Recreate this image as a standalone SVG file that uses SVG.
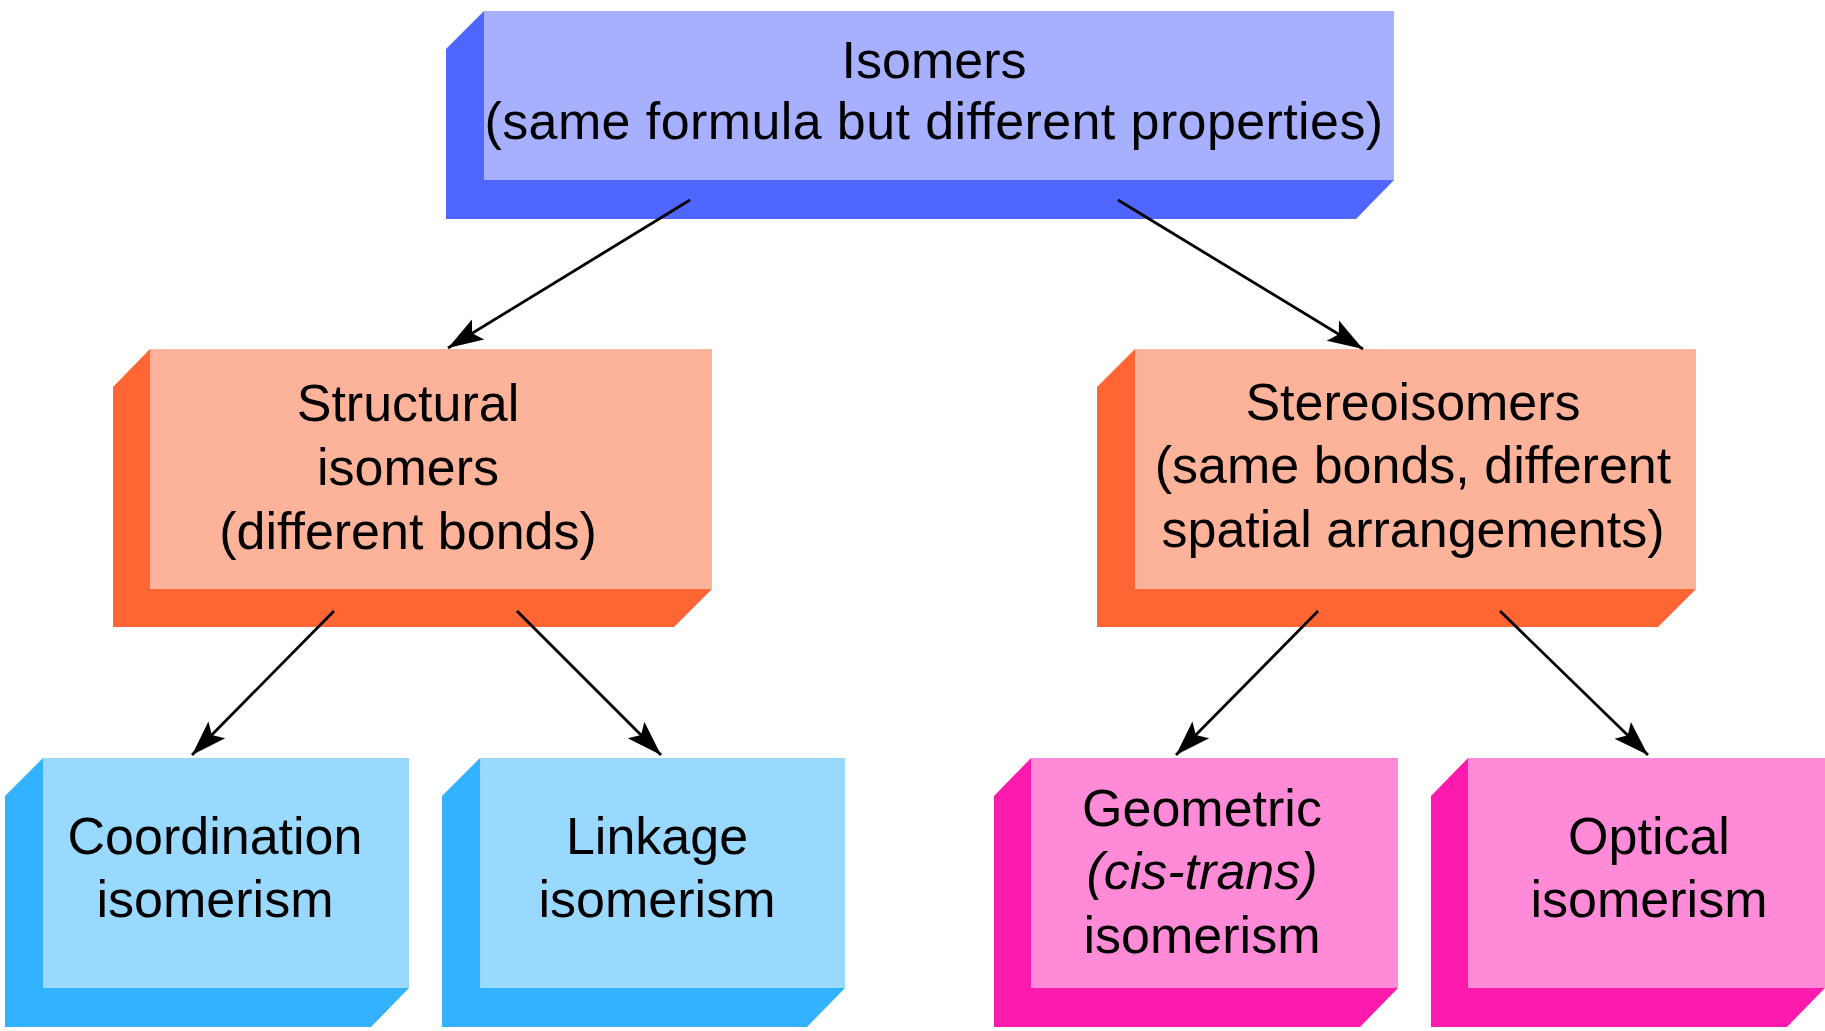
<svg xmlns="http://www.w3.org/2000/svg" width="1825" height="1031" viewBox="0 0 1825 1031">
<style>
  text { font-family: "Liberation Sans", Arial, Helvetica, sans-serif; font-size: 52px; fill: #000; text-anchor: middle; }
  .it { font-style: italic; }
  .wide { letter-spacing: 0.4px; }
  .conn line { stroke: #000; stroke-width: 2.8; fill: none; }
  .violetD { fill: #4f66ff; } .violetF { fill: #a6b0ff; }
  .orangeD { fill: #ff6633; } .orangeF { fill: #fdb399; }
  .blueD { fill: #33b2ff; } .blueF { fill: #99d9ff; }
  .pinkD { fill: #ff1aae; } .pinkF { fill: #ff8ad8; }
</style>
<defs>
  <marker id="arrow" markerUnits="userSpaceOnUse" markerWidth="40" markerHeight="30" viewBox="-32 -12 34 24" refX="0" refY="0" orient="auto">
    <path d="M0,0 L-30,-10 L-24,0 L-30,10 Z" fill="#000"/>
  </marker>
</defs>
<rect width="1825" height="1031" fill="#fff"/>

<g id="isomers">
  <polygon class="violetD" points="446,49 484,11 1394,11 1394,180 1356,219 446,219"/>
  <rect class="violetF" x="484" y="11" width="910" height="169"/>
  <text x="934" y="78">Isomers</text>
  <text x="934" y="139" class="wide">(same formula but different properties)</text>
</g>

<g id="structural">
  <polygon class="orangeD" points="113,387 150,349 712,349 712,589 674,627 113,627"/>
  <rect class="orangeF" x="150" y="349" width="562" height="240"/>
  <text x="408" y="421">Structural</text>
  <text x="408" y="485">isomers</text>
  <text x="408" y="549">(different bonds)</text>
</g>

<g id="stereoisomers">
  <polygon class="orangeD" points="1097,387 1135,349 1696,349 1696,589 1658,627 1097,627"/>
  <rect class="orangeF" x="1135" y="349" width="561" height="240"/>
  <text x="1413" y="420">Stereoisomers</text>
  <text x="1413" y="483">(same bonds, different</text>
  <text x="1413" y="547">spatial arrangements)</text>
</g>

<g id="coordination">
  <polygon class="blueD" points="5,796 43,758 409,758 409,988 371,1027 5,1027"/>
  <rect class="blueF" x="43" y="758" width="366" height="230"/>
  <text x="215" y="854">Coordination</text>
  <text x="215" y="917">isomerism</text>
</g>

<g id="linkage">
  <polygon class="blueD" points="442,796 480,758 845,758 845,988 807,1027 442,1027"/>
  <rect class="blueF" x="480" y="758" width="365" height="230"/>
  <text x="657" y="854">Linkage</text>
  <text x="657" y="917">isomerism</text>
</g>

<g id="geometric">
  <polygon class="pinkD" points="994,796 1031,758 1398,758 1398,988 1360,1027 994,1027"/>
  <rect class="pinkF" x="1031" y="758" width="367" height="230"/>
  <text x="1202" y="826">Geometric</text>
  <text x="1202" y="889" class="it">(cis-trans)</text>
  <text x="1202" y="953">isomerism</text>
</g>

<g id="optical">
  <polygon class="pinkD" points="1431,796 1468,758 1825,758 1825,988 1787,1027 1431,1027"/>
  <rect class="pinkF" x="1468" y="758" width="357" height="230"/>
  <text x="1649" y="854">Optical</text>
  <text x="1649" y="917">isomerism</text>
</g>

<g id="connectors" class="conn">
  <line x1="690" y1="200" x2="448" y2="348" marker-end="url(#arrow)"/>
  <line x1="1118" y1="200" x2="1363" y2="349" marker-end="url(#arrow)"/>
  <line x1="334" y1="611" x2="192" y2="755" marker-end="url(#arrow)"/>
  <line x1="517" y1="611" x2="661" y2="755" marker-end="url(#arrow)"/>
  <line x1="1318" y1="611" x2="1176" y2="755" marker-end="url(#arrow)"/>
  <line x1="1500" y1="611" x2="1648" y2="755" marker-end="url(#arrow)"/>
</g>
</svg>
